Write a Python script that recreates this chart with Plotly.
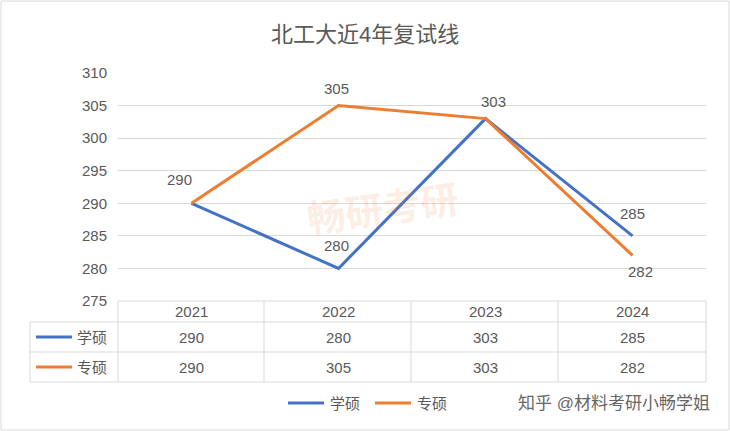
import plotly.graph_objects as go

years = ["2021", "2022", "2023", "2024"]
xs = [0, 1, 2, 3]
xueshuo = [290, 280, 303, 285]
zhuanshuo = [290, 305, 303, 282]
c1, c2 = "#4472C4", "#ED7D31"
gray = "#595959"
font = "Liberation Sans, Noto Sans CJK SC"

W, H = 730, 431
L, R, T, B = 118, 706, 73, 301
pw, ph = R - L, B - T
def px(x): return (x - L) / pw
def py(y): return (B - y) / ph

fig = go.Figure()
fig.add_trace(go.Scatter(x=xs, y=xueshuo, mode="lines", line=dict(color=c1, width=3), name="学硕"))
fig.add_trace(go.Scatter(x=xs, y=zhuanshuo, mode="lines", line=dict(color=c2, width=3), name="专硕"))

ann = []
def A(**k):
    k.setdefault("xanchor", "center")
    k.setdefault("yanchor", "middle")
    k.setdefault("showarrow", False)
    ann.append(k)

shifts1 = [(-12, 24), (-2, 23), (8, 17), (0, 22)]
for i, v in enumerate(xueshuo):
    dx, dy = shifts1[i]
    A(x=xs[i], y=v, xref="x", yref="y", text=str(v), xshift=dx, yshift=dy)
shifts2 = [None, (-2, 17), None, (8, -16)]
for i, v in enumerate(zhuanshuo):
    if shifts2[i]:
        dx, dy = shifts2[i]
        A(x=xs[i], y=v, xref="x", yref="y", text=str(v), xshift=dx, yshift=dy)

shapes = []
lc = "#d9d9d9"
for r in [301, 322, 352, 382]:
    x0 = L if r == 301 else 30
    shapes.append(dict(type="line", xref="paper", yref="paper", x0=px(x0), x1=px(R), y0=py(r), y1=py(r), line=dict(color=lc, width=1)))
for cx in [118, 264, 411, 558, 706]:
    shapes.append(dict(type="line", xref="paper", yref="paper", x0=px(cx), x1=px(cx), y0=py(301), y1=py(382), line=dict(color=lc, width=1)))
shapes.append(dict(type="line", xref="paper", yref="paper", x0=px(30), x1=px(30), y0=py(322), y1=py(382), line=dict(color=lc, width=1)))
shapes.append(dict(type="rect", xref="paper", yref="paper", x0=px(1), x1=px(729), y0=py(1), y1=py(430), line=dict(color=lc, width=1)))

rowmid = {"y": (301 + 322) / 2, "a": (322 + 352) / 2, "b": (352 + 382) / 2}
for i, yr in enumerate(years):
    A(x=xs[i], y=py(rowmid["y"]), xref="x", yref="paper", text=yr)
    A(x=xs[i], y=py(rowmid["a"]), xref="x", yref="paper", text=str(xueshuo[i]))
    A(x=xs[i], y=py(rowmid["b"]), xref="x", yref="paper", text=str(zhuanshuo[i]))
for key, name, col in [("a", "学硕", c1), ("b", "专硕", c2)]:
    shapes.append(dict(type="line", xref="paper", yref="paper", x0=px(36), x1=px(72), y0=py(rowmid[key]), y1=py(rowmid[key]), line=dict(color=col, width=3)))
    A(x=px(75), y=py(rowmid[key]), xref="paper", yref="paper", text=name, xanchor="left")

for x0, name, col in [(288, "学硕", c1), (375, "专硕", c2)]:
    shapes.append(dict(type="line", xref="paper", yref="paper", x0=px(x0), x1=px(x0 + 36), y0=py(403), y1=py(403), line=dict(color=col, width=3)))
    A(x=px(x0 + 40), y=py(403), xref="paper", yref="paper", text=name, xanchor="left")

A(x=px(365), y=py(35), xref="paper", yref="paper", text="北工大近4年复试线", font=dict(size=22, color=gray))
A(x=px(712), y=py(403), xref="paper", yref="paper", text="知乎 @材料考研小畅学姐", xanchor="right", font=dict(size=17, color="#666666"))
A(x=px(383), y=py(210), xref="paper", yref="paper", text="<b>畅研考研</b>", textangle=-8, font=dict(size=38, color="rgba(237,125,49,0.15)"))

fig.update_layout(
    width=W, height=H, margin=dict(l=L, r=W - R, t=T, b=H - B),
    paper_bgcolor="white", plot_bgcolor="white", showlegend=False,
    font=dict(family=font, size=15, color=gray),
    xaxis=dict(range=[-0.5, 3.5], showticklabels=False, showgrid=False, zeroline=False),
    yaxis=dict(range=[275, 310], dtick=5, gridcolor=lc, zeroline=False, ticks="", ticklabelstandoff=10, tickfont=dict(size=15, color=gray)),
    annotations=ann, shapes=shapes,
)
fig.write_html("out.html", config={"displayModeBar": False},
               post_script="document.body.style.margin='0';")
